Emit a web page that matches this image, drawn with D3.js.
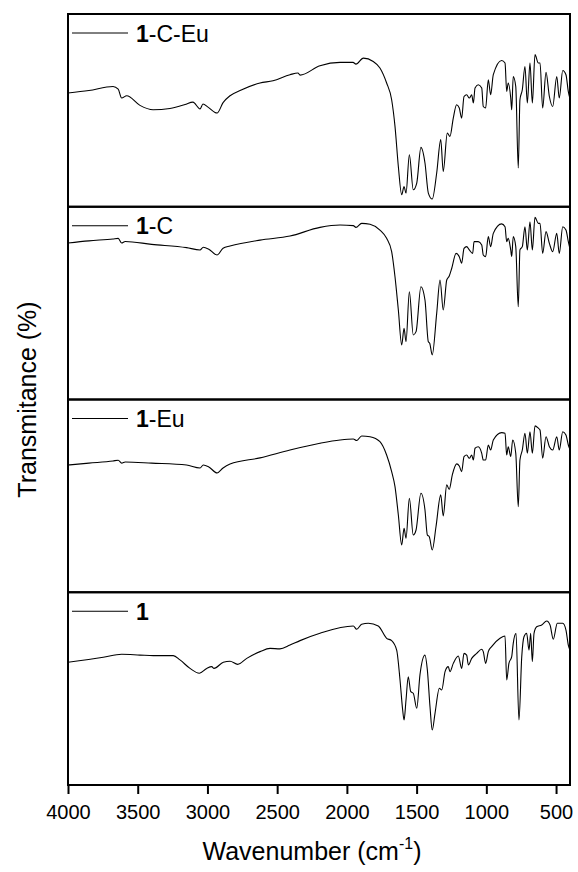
<!DOCTYPE html>
<html>
<head>
<meta charset="utf-8">
<script src="https://cdn.jsdelivr.net/npm/d3@7"></script>
<style>
  html, body { margin: 0; padding: 0; background: #fff; }
  svg { display: block; }
  text { font-family: "Liberation Sans", Arial, sans-serif; fill: #000; }
</style>
</head>
<body>
<svg id="chart" width="578" height="872"></svg>
<script>
// ---------------- DATA ----------------
const seriesNames = ["1-C-Eu", "1-C", "1-Eu", "1"];
const xTicks = [4000, 3500, 3000, 2500, 2000, 1500, 1000, 500];
const xTitle = "Wavenumber (cm";
const yTitle = "Transmitance (%)";

// [wavenumber (cm-1), relative transmittance within the panel (0-100)]
const spec1CEu = [[4000,59.0],[3850,60.3],[3677,62.4],[3640,61.0],[3615,56.4],[3579,57.6],[3484,52.6],[3390,50.3],[3269,51.0],[3161,53.0],[3104,54.3],[3053,50.8],[3032,53.3],[2996,51.7],[2931,48.6],[2888,54.0],[2838,57.6],[2766,60.3],[2623,64.2],[2530,65.4],[2408,68.5],[2351,69.4],[2336,68.3],[2193,73.2],[2049,74.9],[1956,74.9],[1935,74.0],[1882,77.1],[1811,75.4],[1763,72.0],[1715,64.2],[1679,55.5],[1655,41.7],[1631,20.9],[1607,6.2],[1590,10.5],[1576,7.1],[1552,27.0],[1524,8.8],[1499,12.3],[1469,30.8],[1440,22.7],[1416,7.1],[1388,4.0],[1356,17.5],[1327,34.8],[1309,18.3],[1280,38.2],[1261,36.5],[1237,46.0],[1213,52.9],[1194,51.2],[1177,46.0],[1160,57.2],[1141,58.1],[1122,56.4],[1105,58.1],[1093,53.8],[1081,61.6],[1058,63.3],[1033,61.6],[1022,52.0],[1005,51.2],[986,65.9],[969,58.1],[950,68.5],[890,75.9],[866,74.6],[854,59.8],[843,64.2],[825,56.4],[818,50.3],[807,67.6],[789,62.4],[771,20.1],[759,55.5],[742,60.7],[723,72.8],[706,53.8],[687,74.6],[670,53.8],[651,78.9],[627,74.6],[615,74.6],[596,51.2],[572,69.7],[548,57.2],[524,52.0],[495,67.6],[477,56.4],[452,70.7],[429,68.5],[412,59.7],[400,56.0]];

const spec1C = [[4000,81.2],[3850,82.3],[3677,83.3],[3640,83.6],[3615,81.2],[3590,82.0],[3400,80.5],[3150,78.8],[3053,77.6],[3030,79.0],[2990,78.0],[2931,75.0],[2888,78.5],[2838,79.6],[2623,82.7],[2408,84.8],[2193,89.3],[2049,90.5],[1954,90.2],[1935,89.3],[1894,91.4],[1834,90.9],[1763,87.9],[1715,83.6],[1679,76.7],[1655,63.7],[1631,46.4],[1607,28.3],[1590,36.9],[1576,30.0],[1552,55.9],[1524,33.5],[1504,35.2],[1469,58.5],[1440,51.6],[1416,30.0],[1406,29.2],[1388,23.1],[1356,44.7],[1332,62.0],[1309,46.4],[1284,62.0],[1266,64.1],[1248,68.1],[1217,75.8],[1194,74.1],[1177,70.7],[1160,78.4],[1141,79.3],[1122,77.6],[1098,75.8],[1088,81.9],[1058,81.9],[1033,80.2],[1022,75.0],[1005,74.1],[986,84.5],[969,79.3],[950,86.2],[890,91.1],[866,89.6],[854,81.9],[843,83.6],[825,77.6],[818,74.1],[807,84.5],[789,79.3],[771,48.1],[759,77.6],[742,79.3],[723,89.6],[706,77.6],[687,92.2],[670,77.6],[651,94.5],[627,91.4],[615,91.4],[596,75.8],[572,87.1],[548,81.0],[524,76.7],[495,86.2],[477,75.8],[452,89.6],[429,87.9],[412,81.9],[400,78.0]];

const spec1Eu = [[4000,66.0],[3850,67.0],[3677,68.1],[3640,68.5],[3615,67.0],[3590,67.6],[3400,67.0],[3150,66.0],[3053,64.5],[3030,66.0],[2990,65.0],[2931,61.9],[2888,64.5],[2838,66.5],[2623,69.7],[2408,73.8],[2193,77.3],[2049,79.0],[1954,79.5],[1930,78.7],[1894,81.1],[1834,80.7],[1763,78.1],[1715,71.2],[1679,62.6],[1655,54.8],[1631,40.1],[1607,24.5],[1590,33.2],[1576,28.0],[1552,48.8],[1524,29.7],[1504,32.3],[1469,51.4],[1440,42.7],[1423,29.7],[1409,28.8],[1388,21.9],[1361,34.0],[1327,50.5],[1309,39.6],[1284,55.7],[1266,53.4],[1244,60.9],[1213,66.6],[1194,65.5],[1177,62.6],[1160,70.4],[1141,71.2],[1122,69.5],[1105,71.2],[1093,68.6],[1081,74.7],[1058,75.5],[1033,72.1],[1022,68.6],[1005,68.6],[986,76.4],[969,73.8],[950,79.0],[890,82.8],[866,82.5],[854,71.2],[843,75.5],[825,70.4],[811,79.0],[789,72.1],[771,44.4],[759,68.6],[742,73.8],[723,82.5],[706,72.1],[687,83.3],[670,72.1],[651,86.3],[627,85.1],[615,84.2],[596,69.5],[572,80.7],[548,75.5],[524,73.8],[495,80.7],[477,73.8],[452,83.3],[429,81.6],[412,76.4],[400,74.0]];

const spec1 = [[4000,63.7],[3747,66.3],[3615,67.8],[3484,67.4],[3388,67.1],[3245,67.1],[3197,64.9],[3125,60.5],[3058,58.0],[3005,60.5],[2969,61.4],[2953,60.5],[2886,63.7],[2838,64.2],[2783,62.6],[2718,65.7],[2623,69.2],[2551,70.9],[2480,70.6],[2408,72.6],[2336,74.9],[2193,78.7],[1954,82.5],[1930,80.8],[1894,83.4],[1846,83.9],[1775,82.5],[1715,76.1],[1679,74.9],[1643,70.0],[1619,54.5],[1600,38.9],[1590,33.7],[1576,44.1],[1560,56.2],[1542,48.4],[1524,47.6],[1499,39.8],[1476,57.1],[1440,67.4],[1423,59.7],[1404,40.6],[1388,28.5],[1368,37.2],[1337,50.2],[1320,49.3],[1296,58.8],[1273,61.4],[1261,58.8],[1237,63.1],[1201,66.9],[1177,60.5],[1160,68.3],[1141,67.4],[1129,62.3],[1105,65.7],[1069,68.3],[1033,70.4],[1022,69.2],[1005,63.1],[986,69.2],[962,71.8],[902,76.1],[866,77.3],[854,54.5],[838,63.1],[818,66.6],[807,73.5],[787,78.7],[766,33.7],[746,66.6],[730,76.9],[711,78.7],[694,70.0],[682,78.7],[670,64.0],[658,78.7],[639,82.1],[603,83.0],[567,85.1],[543,83.0],[520,75.6],[491,83.9],[452,83.9],[429,80.4],[412,72.6],[400,70.0]];

const spectra = [spec1CEu, spec1C, spec1Eu, spec1];

// ---------------- LAYOUT ----------------
const plotLeft = 68, plotRight = 570, plotTop = 14, plotBottom = 785;
const nPanels = 4;
const panelH = (plotBottom - plotTop) / nPanels;

const svg = d3.select("#chart");

const x = d3.scaleLinear().domain([4000, 400]).range([plotLeft, plotRight]);

const defs = svg.append("defs");

spectra.forEach((data, i) => {
  const top = plotTop + i * panelH;
  const bottom = top + panelH;
  const y = d3.scaleLinear().domain([0, 100]).range([bottom, top]);

  defs.append("clipPath").attr("id", "clip" + i)
    .append("rect").attr("x", plotLeft).attr("y", top)
    .attr("width", plotRight - plotLeft).attr("height", panelH);

  const g = svg.append("g");

  const line = d3.line().x(d => x(d[0])).y(d => y(d[1])).curve(d3.curveMonotoneX);
  g.append("path")
    .datum(data)
    .attr("clip-path", "url(#clip" + i + ")")
    .attr("fill", "none")
    .attr("stroke", "#000")
    .attr("stroke-width", 1.1)
    .attr("stroke-linejoin", "round")
    .attr("d", line);

  // legend
  const ly = top + 19;
  g.append("line")
    .attr("x1", 72).attr("x2", 128).attr("y1", ly).attr("y2", ly)
    .attr("stroke", "#000").attr("stroke-width", 1);
  const name = seriesNames[i];
  const t = g.append("text")
    .attr("x", 136).attr("y", ly + 8.5)
    .attr("font-size", 23);
  t.append("tspan").attr("font-weight", "bold").text(name.slice(0, 1));
  t.append("tspan").text(name.slice(1));

  // frame
  g.append("rect")
    .attr("x", plotLeft).attr("y", top)
    .attr("width", plotRight - plotLeft).attr("height", panelH)
    .attr("fill", "none").attr("stroke", "#000").attr("stroke-width", 2);
});

// x axis
const xAxis = d3.axisBottom(x).tickValues(xTicks).tickSize(9).tickPadding(11).tickFormat(d3.format("d"));
const ax = svg.append("g").attr("transform", `translate(0,${plotBottom})`).call(xAxis);
ax.select(".domain").remove();
ax.selectAll(".tick line").attr("stroke", "#000").attr("stroke-width", 2);
ax.selectAll(".tick text").attr("font-size", 20).attr("font-family", "Liberation Sans, Arial, sans-serif").attr("fill", "#000");

// titles
const xt = svg.append("text")
  .attr("x", 312).attr("y", 860)
  .attr("text-anchor", "middle")
  .attr("font-size", 25);
xt.append("tspan").text(xTitle);
xt.append("tspan").attr("font-size", 16).attr("dy", -11).text("-1");
xt.append("tspan").attr("dy", 11).text(")");

svg.append("text")
  .attr("transform", `translate(36,${(plotTop + plotBottom) / 2}) rotate(-90)`)
  .attr("text-anchor", "middle")
  .attr("font-size", 25)
  .text(yTitle);
</script>
</body>
</html>
